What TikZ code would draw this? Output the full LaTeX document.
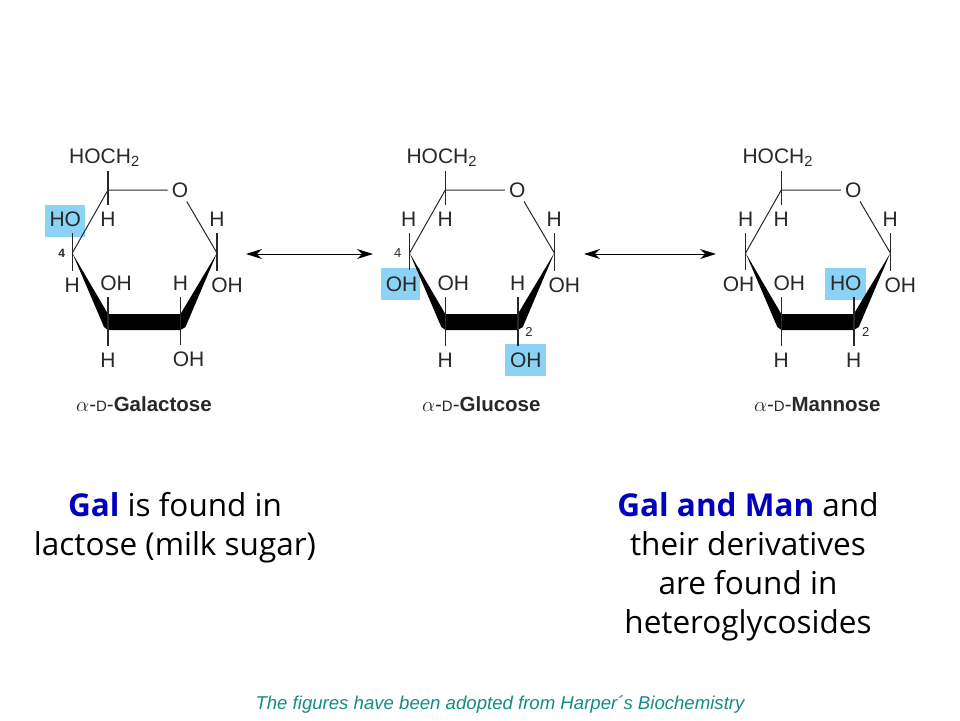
\documentclass[tikz,border=0pt]{standalone}
\usepackage{fontspec}
\setmainfont{Liberation Sans}
\newfontfamily\notefont{Open Sans}
\usetikzlibrary{calc,arrows.meta}
\definecolor{hilite}{RGB}{140,210,245}
\definecolor{inkgray}{RGB}{40,40,40}
\definecolor{galblue}{RGB}{0,0,190}
\definecolor{noteteal}{RGB}{20,140,130}
\tikzset{
  >={Stealth[length=16pt,width=10pt]},
  atom/.style={inner sep=0pt, outer ysep=6.5pt, text=inkgray, font=\fontsize{21}{25}\selectfont},
  tag/.style={inner sep=0pt, text=inkgray, font=\fontsize{13}{15}\selectfont},
  bond/.style={line width=1.5pt, draw=inkgray},
  ringbond/.style={line width=1pt, draw=inkgray},
  note/.style={align=center, inner sep=0pt, font=\notefont\fontsize{31.5}{39}\selectfont}
}
\newcommand{\upsub}[3]{%
  \node[atom] (#1#3) at ($(#1)+(#2)$) {#3};
  \draw[bond] (#1) -- (#1 |- #1#3.south);
}
\newcommand{\downsub}[3]{%
  \node[atom] (#1#3) at ($(#1)+(#2)$) {#3};
  \draw[bond] (#1) -- (#1 |- #1#3.north);
}
\newcommand{\sugarring}[1]{%
  \coordinate (top) at (108,190);
  \node[atom, outer ysep=0pt, inner sep=4pt] (O) at (180,190) {O};
  \coordinate (right) at (217,253);
  \coordinate (br) at (180.5,322);
  \coordinate (bl) at (108,322);
  \coordinate (left) at (72.3,253);
  \draw[ringbond] (left) -- (top) -- (O) -- (right);
  \fill[black] (left) -- ($(bl)+(0,-8)$) -- ($(br)+(0,-8)$) -- (right) -- ($(br)+(5,5)$) -- ($(br)+(0,8)$) -- ($(bl)+(0,8)$) -- ($(bl)+(-4,5)$) -- cycle;
  \node[atom, outer ysep=4pt] (HOCH) at (104.5,158) {HOCH\textsubscript{2}};
  \draw[bond] (top) -- (top |- HOCH.south);
  \downsub{top}{0,29}{H}
  \upsub{right}{0,-34}{H}
  \downsub{right}{10,32}{OH}
  \upsub{bl}{8,-39}{OH}
  \downsub{bl}{0,38}{H}
  \node[anchor=base, inner sep=0pt, text=inkgray, font=\bfseries\fontsize{20.5}{24}\selectfont] (title) at (144,411)
    {\textmd{$\alpha$-{\fontsize{15}{17}\selectfont D}-}#1};
}

\begin{document}
\begin{tikzpicture}[x=1pt,y=-1pt]
  \useasboundingbox (0,0) rectangle (960,720);
  % galactose
  \begin{scope}[name prefix=gal-]
    \fill[hilite] (45,205) rectangle (85,237);
    \sugarring{Galactose}
    \upsub{left}{-7,-34}{HO}
    \downsub{left}{0,32}{H}
    \upsub{br}{0,-39}{H}
    \downsub{br}{8,37}{OH}
    \node[tag, font=\bfseries\fontsize{12}{14}\selectfont] (four) at (61.7,253) {4};
  \end{scope}
  % glucose
  \begin{scope}[shift={(337.3,0)}, name prefix=glu-]
    \fill[hilite] (43.4,268) rectangle (82.7,300);
    \fill[hilite] (167.7,344) rectangle (208.4,376);
    \sugarring{Glucose}
    \upsub{left}{-1,-34}{H}
    \downsub{left}{-8,31}{OH}
    \upsub{br}{0,-39}{H}
    \downsub{br}{8,38}{OH}
    \node[tag] (four) at (60.4,253) {4};
    \node[tag] (two) at (191.7,331.7) {2};
  \end{scope}
  % mannose
  \begin{scope}[shift={(673.3,0)}, name prefix=man-]
    \fill[hilite] (151.7,267.7) rectangle (192.4,300);
    \sugarring{Mannose}
    \upsub{left}{0,-34}{H}
    \downsub{left}{-7,31}{OH}
    \upsub{br}{-8,-39}{HO}
    \downsub{br}{0,38}{H}
    \node[tag] (two) at (192.4,331.7) {2};
  \end{scope}
  % arrows
  \coordinate (arrowAl) at (246,254);
  \coordinate (arrowAr) at (373,254);
  \coordinate (arrowBl) at (584,254);
  \coordinate (arrowBr) at (716,254);
  \draw[<->, line width=1pt] (arrowAl) -- (arrowAr);
  \draw[<->, line width=1pt] (arrowBl) -- (arrowBr);
  % texts
  \node[note] (galnote) at (175,527.5) {\textcolor{galblue}{\textbf{Gal}} is found in\\lactose (milk sugar)};
  \node[note] (mannote) at (748,566.5) {\textcolor{galblue}{\textbf{Gal and Man}} and\\their derivatives\\are found in\\heteroglycosides};
  \node[inner sep=0pt, text=noteteal, font=\itshape\fontsize{18.6}{22}\selectfont] (source) at (500,705)
    {The figures have been adopted from Harper´s Biochemistry};
\end{tikzpicture}
\end{document}
